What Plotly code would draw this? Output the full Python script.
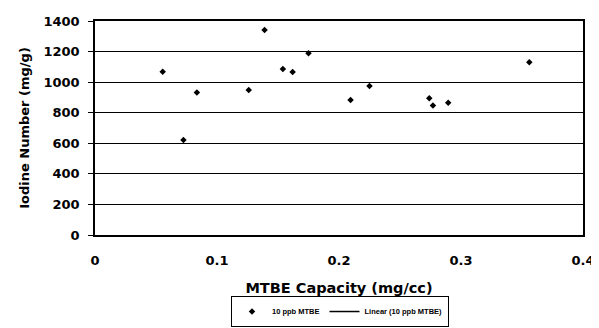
import plotly.graph_objects as go

# Data
mtbe_capacity = [0.0555, 0.0725, 0.0835, 0.126, 0.139, 0.154, 0.162, 0.175, 0.2095, 0.225, 0.274, 0.277, 0.2895, 0.356]
iodine_number = [1068, 621, 933, 948, 1341, 1086, 1066, 1189, 883, 975, 894, 848, 866, 1130]

x_tick_vals = [0, 0.1, 0.2, 0.3, 0.4]
x_tick_text = ["0", "0.1", "0.2", "0.3", "0.4"]
y_tick_vals = [0, 200, 400, 600, 800, 1000, 1200, 1400]

series_name = "10 ppb MTBE"
trend_name = "Linear (10 ppb MTBE)"

fig = go.Figure()
fig.add_trace(go.Scatter(
    x=mtbe_capacity, y=iodine_number, mode="markers", name=series_name,
    marker=dict(symbol="diamond", size=5, color="black"),
))
fig.add_trace(go.Scatter(
    x=[None], y=[None], mode="lines", name=trend_name,
    line=dict(color="black", width=1.5),
))

tick_family = "DejaVu Sans, Arial, sans-serif"
legend_family = "Liberation Sans, Arial, sans-serif"

# page body has an 8px default margin; the figure is sized for that offset
fig.update_layout(
    width=591, height=320,
    margin=dict(l=87, r=16, t=13, b=93, autoexpand=False),
    paper_bgcolor="white", plot_bgcolor="white",
    font=dict(family=tick_family, color="black"),
    showlegend=True,
    legend=dict(
        orientation="h", x=0.502, y=-0.43, xanchor="center", yanchor="bottom",
        bordercolor="black", borderwidth=1, bgcolor="white",
        font=dict(size=7.5, family=legend_family, color="black", weight="bold"),
        itemwidth=30, tracegroupgap=0,
    ),
)
fig.update_xaxes(
    range=[0, 0.4], tickvals=x_tick_vals, ticktext=x_tick_text,
    showgrid=False, zeroline=False, showline=True, linecolor="black", linewidth=1.5,
    mirror=True, ticks="", ticklabelstandoff=13, automargin=False,
    tickfont=dict(size=13, weight="bold"),
    title=dict(text="MTBE Capacity (mg/cc)", font=dict(size=14.5, weight="bold"), standoff=16),
)
fig.update_yaxes(
    range=[0, 1400], tickvals=y_tick_vals,
    showgrid=True, gridcolor="black", gridwidth=1.3, zeroline=False,
    showline=True, linecolor="black", linewidth=1.5, mirror=True,
    ticks="outside", ticklen=5, tickcolor="black", ticklabelstandoff=6, automargin=False,
    tickfont=dict(size=13, weight="bold"),
    title=dict(text="Iodine Number (mg/g)", font=dict(size=13, weight="bold"), standoff=11),
)

fig.write_html("out.html")
